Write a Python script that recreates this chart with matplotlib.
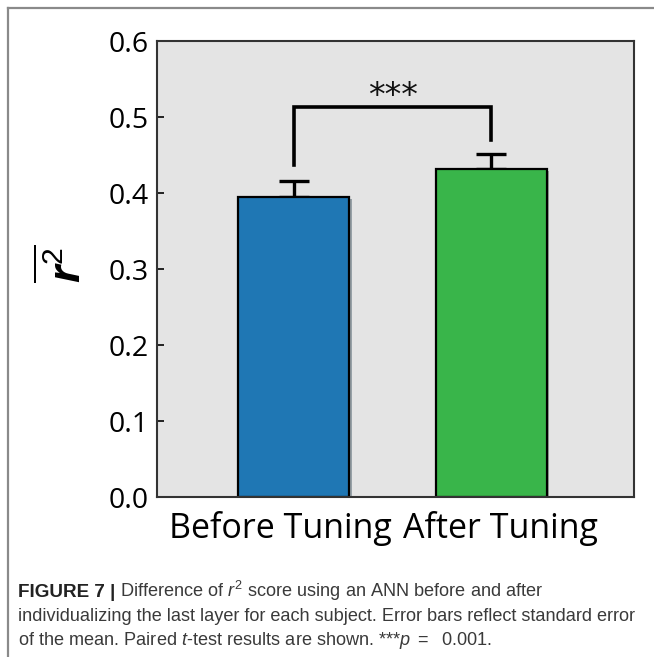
import numpy as np
import matplotlib
matplotlib.use('Agg')
import matplotlib.pyplot as plt
from matplotlib.lines import Line2D
import matplotlib.patheffects as pe
from matplotlib.transforms import offset_copy

# Données
categories = ['Before Tuning', 'After Tuning']
moyennes = [0.395, 0.432]
erreurs = [0.021, 0.019]
couleurs = ['#1f77b4', '#39b54a']
yticks = [0.0, 0.1, 0.2, 0.3, 0.4, 0.5, 0.6]
crochet_y = 0.513
crochet_bas = [0.437, 0.470]
etoiles = '***'
etoiles_y = 0.527

W, H = 654, 657
fig = plt.figure(figsize=(W / 100, H / 100), dpi=100)

plt.rcParams['mathtext.fontset'] = 'custom'
plt.rcParams['mathtext.it'] = 'Liberation Sans:italic'
plt.rcParams['mathtext.rm'] = 'Liberation Sans'
plt.rcParams['mathtext.bf'] = 'Open Sans:italic:bold'

# cadre extérieur (gauche et haut seulement visibles)
fig.add_artist(Line2D([8 / W, 8 / W], [0, 1 - 8 / H], color='#8a8a8a', lw=1.6))
fig.add_artist(Line2D([8 / W, 1], [1 - 8 / H, 1 - 8 / H], color='#8a8a8a', lw=1.6))

ax = fig.add_axes([157 / W, 1 - 497 / H, (634 - 157) / W, (497 - 41) / H])
ax.set_facecolor('#e4e4e4')

x = np.arange(len(categories))
barres = ax.bar(x, moyennes, width=0.565, color=couleurs, edgecolor='black',
                linewidth=1.6, zorder=2)
for b in barres:
    b.set_path_effects([pe.SimplePatchShadow(offset=(1.5, -1.5), alpha=0.35), pe.Normal()])
ax.errorbar(x, moyennes, yerr=[np.zeros(len(erreurs)), erreurs], fmt='none',
            ecolor='black', elinewidth=2.4, capsize=11, capthick=2.4, zorder=1)

# crochet de significativité
ax.plot([x[0], x[0], x[1], x[1]], [crochet_bas[0], crochet_y, crochet_y, crochet_bas[1]],
        color='black', lw=2.6, solid_joinstyle='miter', zorder=3)
ax.text((x[0] + x[1]) / 2, etoiles_y, etoiles, ha='center', va='center',
        fontsize=24, family='DejaVu Sans', color='#111111')

ax.set_xlim(-0.69, 1.72)
ax.set_ylim(0, 0.6)
ax.set_yticks(yticks)
ax.set_yticklabels([f'{v:.1f}' for v in yticks], family='Open Sans', fontsize=20.5)
ax.set_xticks(x)
ax.set_xticklabels(categories, family='Open Sans', fontsize=24.5)
ax.tick_params(axis='y', direction='in', length=5, width=1.2, pad=6, colors='black')
ax.tick_params(axis='x', length=0, pad=10)
for lab, dx in zip(ax.get_xticklabels(), [-13, 9]):
    lab.set_transform(offset_copy(lab.get_transform(), fig=fig, x=dx, units='dots'))
for s in ax.spines.values():
    s.set_color('#333333')
    s.set_linewidth(1.5)

fig.text(64 / W, 1 - 264 / H, r'$\overline{\mathbf{r}^{2}}$', rotation=90,
         ha='center', va='center', fontsize=31, math_fontfamily='custom')

# légende de la figure
cap_font = dict(family='Liberation Sans', fontsize=13.1, color='#3a3a3a')
renderer = fig.canvas.get_renderer()
x0 = 18 / W
t = fig.text(x0, 1 - 597 / H, 'FIGURE 7 |', fontweight='bold', va='baseline',
             family='Liberation Sans', fontsize=13.6, color='#222222')
bb = t.get_window_extent(renderer)
fig.text(x0 + (bb.width + 5) / W, 1 - 597 / H,
         r'Difference of $r^2$ score using an ANN before and after',
         va='baseline', math_fontfamily='custom', **cap_font)
fig.text(x0, 1 - 621 / H,
         'individualizing the last layer for each subject. Error bars reflect standard error',
         va='baseline', **cap_font)
fig.text(x0, 1 - 645 / H,
         r'of the mean. Paired $t$-test results are shown. ***$p$ $=$  0.001.',
         va='baseline', math_fontfamily='custom', **cap_font)

fig.savefig('out.png', dpi=100)
